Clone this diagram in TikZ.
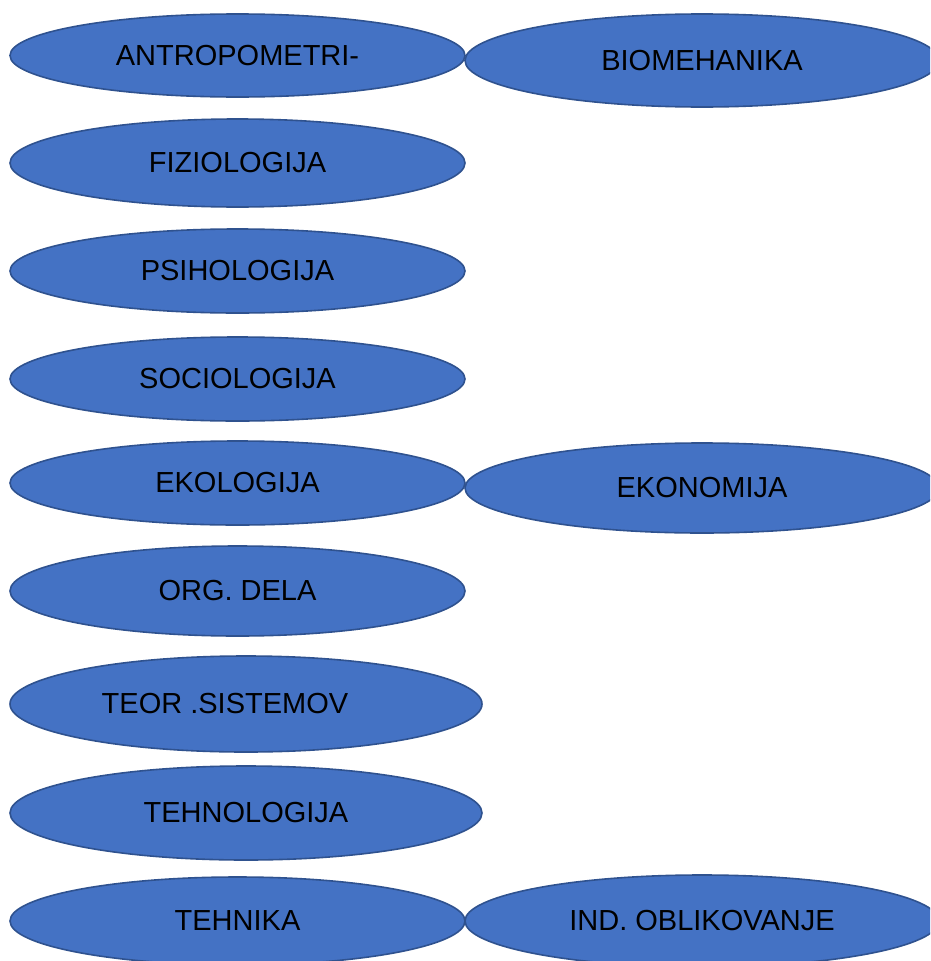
\documentclass[tikz,border=0pt]{standalone}
\usepackage{fontspec}
\setmainfont{Liberation Sans}
\usetikzlibrary{shapes.geometric}
\definecolor{fillblue}{HTML}{4472C4}
\definecolor{edgeblue}{HTML}{2F528F}
\tikzset{
  oval/.style={ellipse, draw=edgeblue, fill=fillblue, line width=1.6pt, inner sep=0pt,
    font=\fontsize{29pt}{32pt}\selectfont, text=black},
}
\begin{document}
\begin{tikzpicture}
\useasboundingbox (0pt,0pt) rectangle (930pt,-961pt);
\clip (0pt,0pt) rectangle (930pt,-961pt);
\node[oval, minimum width=474pt, minimum height=93pt] (bio) at (702pt,-60.5pt) {BIOMEHANIKA};
\node[oval, minimum width=455pt, minimum height=83pt] (antro) at (237.5pt,-55.5pt) {ANTROPOMETRI-};
\node[oval, minimum width=455pt, minimum height=88pt] (fizio) at (237.5pt,-163pt) {FIZIOLOGIJA};
\node[oval, minimum width=455pt, minimum height=84pt] (psiho) at (237.5pt,-271pt) {PSIHOLOGIJA};
\node[oval, minimum width=455pt, minimum height=84pt] (socio) at (237.5pt,-379pt) {SOCIOLOGIJA};
\node[oval, minimum width=474pt, minimum height=90pt] (ekon) at (702pt,-488pt) {EKONOMIJA};
\node[oval, minimum width=455pt, minimum height=84pt] (ekol) at (237.5pt,-483pt) {EKOLOGIJA};
\node[oval, minimum width=455pt, minimum height=90pt] (org) at (237.5pt,-591pt) {ORG. DELA};
\node[oval, minimum width=472pt, minimum height=96pt] (teor) at (246pt,-704pt) {TEOR .SISTEMOV\hspace*{42pt}};
\node[oval, minimum width=472pt, minimum height=94pt] (tehno) at (246pt,-813pt) {TEHNOLOGIJA};
\node[oval, minimum width=474pt, minimum height=92pt] (ind) at (702pt,-921pt) {IND. OBLIKOVANJE};
\node[oval, minimum width=455pt, minimum height=88pt] (tehnika) at (237.5pt,-921pt) {TEHNIKA};
\end{tikzpicture}
\end{document}
